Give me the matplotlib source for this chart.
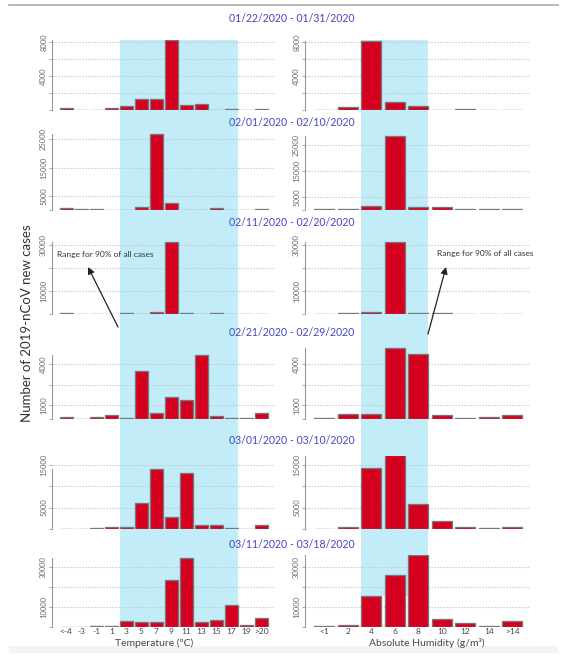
import numpy as np
import matplotlib
matplotlib.use("Agg")
import matplotlib.pyplot as plt
from matplotlib.patches import Rectangle
from matplotlib.lines import Line2D
from matplotlib.text import Annotation
from matplotlib.transforms import blended_transform_factory

plt.rcParams["font.family"] = ["Lato", "DejaVu Sans"]

# Categorias
TEMP_CATS = ["<-4", "-3", "-1", "1", "3", "5", "7", "9", "11", "13", "15", "17", "19", ">20"]
HUM_CATS = ["<1", "2", "4", "6", "8", "10", "12", "14", ">14"]

PERIODOS = [
    "01/22/2020 - 01/31/2020",
    "02/01/2020 - 02/10/2020",
    "02/11/2020 - 02/20/2020",
    "02/21/2020 - 02/29/2020",
    "03/01/2020 - 03/10/2020",
    "03/11/2020 - 03/18/2020",
]

# Novos casos por faixa de temperatura (um vetor por período)
TEMP_P1 = [240, 40, 40, 200, 470, 1340, 1340, 8200, 590, 710, 40, 80, 20, 110]
TEMP_P2 = [600, 240, 240, 120, 100, 1070, 27100, 2400, 120, 50, 710, 120, 50, 240]
TEMP_P3 = [290, 150, 150, 150, 250, 150, 720, 31400, 580, 150, 300, 150, 100, 200]
TEMP_P4 = [120, 30, 120, 310, 40, 3470, 460, 1570, 1370, 4630, 190, 100, 100, 430]
TEMP_P5 = [100, 100, 150, 450, 390, 6130, 14050, 2700, 12980, 860, 860, 300, 50, 860]
TEMP_P6 = [200, 200, 650, 650, 3000, 2700, 2500, 23500, 34500, 2300, 3300, 11000, 800, 4500]

# Novos casos por faixa de umidade absoluta
HUM_P1 = [50, 390, 8100, 940, 430, 50, 60, 20, 20]
HUM_P2 = [510, 510, 1540, 28600, 1150, 1030, 250, 250, 380]
HUM_P3 = [50, 300, 850, 31400, 400, 300, 100, 50, 200]
HUM_P4 = [50, 360, 400, 5200, 4760, 310, 100, 140, 260]
HUM_P5 = [50, 390, 14300, 17250, 5830, 1790, 470, 230, 540]
HUM_P6 = [330, 830, 15700, 26200, 36000, 4170, 1830, 670, 2830]

TEMP = [TEMP_P1, TEMP_P2, TEMP_P3, TEMP_P4, TEMP_P5, TEMP_P6]
HUM = [HUM_P1, HUM_P2, HUM_P3, HUM_P4, HUM_P5, HUM_P6]

# Faixas que concentram 90% dos casos
TEMP_FAIXA = ("3", "17")
HUM_FAIXA = ("4", "8")

# Grades e rótulos do eixo y por linha
GRADES = [
    [2000, 4000, 6000, 8000],
    [5000, 15000, 25000],
    [10000, 20000, 30000],
    [1000, 2500, 4000],
    [5000, 10000, 15000],
    [10000, 20000, 30000],
]
ROTULOS = [
    [4000, 8000],
    [5000, 15000, 25000],
    [10000, 30000],
    [1000, 4000],
    [5000, 15000],
    [10000, 30000],
]

# Layout (pixels da imagem de referência)
W, H = 576, 664
LINHAS_PX = [(40, 110), (133, 210), (241, 314), (347, 419), (456, 529), (555, 627)]
TOPO_T = [8250, 27300, 31700, 5240, 17000, 36000]
TOPO_H = [8250, 29700, 31700, 5240, 17000, 36000]
TITULO_Y = [19, 122, 223, 332, 440, 544]

VERMELHO = "#D5001F"
AZUL_FAIXA = "#C2EDF8"
COR_TITULO = "#4646C4"
CINZA_EIXO = "#9a9a9a"
CINZA_TXT = "#6a6a6a"

fig = plt.figure(figsize=(W / 100, H / 100), dpi=100)


def caixa(x0, x1, topo, base):
    return [x0 / W, 1 - base / H, (x1 - x0) / W, (base - topo) / H]


def painel(ax, vals, cats, xlim, ytopo, grade, rotulos, ultima):
    x = np.arange(len(cats))
    ax.set_facecolor("none")
    for g in grade:
        ax.axhline(g, color="#c4c4c4", lw=0.8, ls=(0, (1.2, 1.5)), zorder=1)
    ax.bar(x, vals, width=0.84, color=VERMELHO, edgecolor="#777777",
           linewidth=0.95, zorder=2)
    ax.set_xlim(*xlim)
    ax.set_ylim(0, ytopo)
    for s in ["top", "right", "bottom"]:
        ax.spines[s].set_visible(False)
    ax.spines["left"].set_color(CINZA_EIXO)
    ax.spines["left"].set_linewidth(0.8)
    ax.spines["left"].set_bounds(0, min(max(vals), ytopo))
    ticks = [0] + grade
    ax.set_yticks(ticks)
    ax.set_yticklabels([str(t) if t in rotulos else "" for t in ticks],
                       rotation=90, va="center", fontsize=5.5, color=CINZA_TXT)
    ax.tick_params(axis="y", length=2, width=0.6, color=CINZA_EIXO, pad=1.5)
    if ultima:
        ax.set_xticks(x)
        ax.set_xticklabels(cats, fontsize=6, color="#444444")
        ax.tick_params(axis="x", length=0, pad=0.8)
    else:
        ax.set_xticks([])


eixos_t, eixos_h = [], []
for i, (topo, base) in enumerate(LINHAS_PX):
    ult = i == len(LINHAS_PX) - 1
    ax_t = fig.add_axes(caixa(52, 275, topo, base))
    painel(ax_t, TEMP[i], TEMP_CATS, (-0.95, 13.9), TOPO_T[i], GRADES[i], ROTULOS[i], ult)
    ax_h = fig.add_axes(caixa(305, 529, topo, base))
    painel(ax_h, HUM[i], HUM_CATS, (-0.82, 8.71), TOPO_H[i], GRADES[i], ROTULOS[i], ult)
    eixos_t.append(ax_t)
    eixos_h.append(ax_h)
    fig.text(292 / W, 1 - TITULO_Y[i] / H, PERIODOS[i], ha="center", va="center",
             fontsize=7.6, color=COR_TITULO)

# Faixas azuis contínuas atrás dos painéis
def faixa(ax, cats, lim, topo_px, base_px):
    i0, i1 = cats.index(lim[0]), cats.index(lim[1])
    tr = blended_transform_factory(ax.transData, fig.transFigure)
    r = Rectangle((i0 - 0.42, 1 - base_px / H), (i1 - i0) + 0.84, (base_px - topo_px) / H,
                  transform=tr, facecolor=AZUL_FAIXA, edgecolor="none", zorder=-1)
    fig.add_artist(r)

faixa(eixos_t[-1], TEMP_CATS, TEMP_FAIXA, LINHAS_PX[0][0], LINHAS_PX[-1][1])
faixa(eixos_h[-1], HUM_CATS, HUM_FAIXA, LINHAS_PX[0][0], 596)

# Rótulos gerais
fig.text(27 / W, 1 - 323 / H, "Number of 2019-nCoV new cases", rotation=90,
         ha="center", va="center", fontsize=9.5, color="#333333")
fig.text(154 / W, 1 - 643 / H, "Temperature (\u00baC)", ha="center", va="center",
         fontsize=7.5, color="#444444")
fig.text(427 / W, 1 - 643 / H, "Absolute Humidity (g/m\u00b3)", ha="center", va="center",
         fontsize=7.5, color="#444444")

# Anotações com seta
for texto_xy, cauda, ponta in [((57, 255), (118, 327), (88, 267)),
                               ((437, 253), (428, 334), (446, 267))]:
    fig.text(texto_xy[0] / W, 1 - texto_xy[1] / H, "Range for 90% of all cases",
             ha="left", va="center", fontsize=6, color="#333333")
    fig.add_artist(Annotation("", xy=(ponta[0], H - ponta[1]),
                              xytext=(cauda[0], H - cauda[1]),
                              xycoords="figure pixels", textcoords="figure pixels",
                              arrowprops=dict(arrowstyle="-|>", color="#222222", lw=0.9,
                                              mutation_scale=10, shrinkA=0, shrinkB=0)))

# Moldura da imagem original
fig.add_artist(Line2D([9 / W, 558 / W], [1 - 5 / H] * 2, transform=fig.transFigure,
                      color="#b8b8b8", lw=1.4))
fig.add_artist(Rectangle((9 / W, 1 - 653 / H), 549 / W, 7 / H, transform=fig.transFigure,
                         facecolor="#f4f4f4", edgecolor="none", zorder=-2))

fig.savefig("out.png", dpi=100, facecolor="white")
